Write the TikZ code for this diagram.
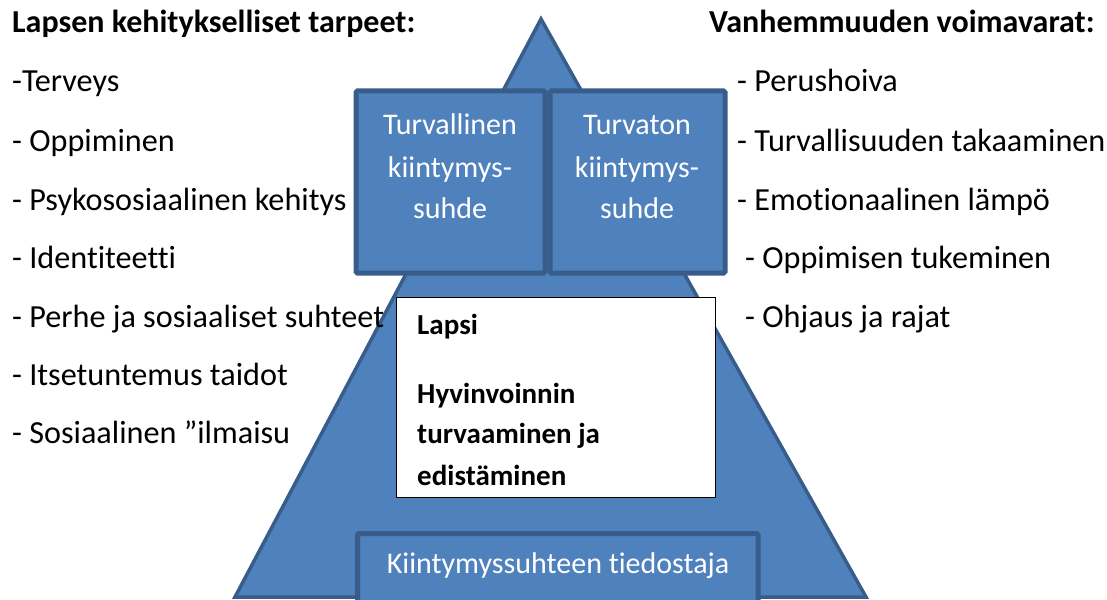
\documentclass[tikz,border=0pt]{standalone}
\usepackage{fontspec}
\setmainfont[Ligatures=NoCommon]{Carlito}
\definecolor{bfill}{HTML}{4F81BD}
\definecolor{bline}{HTML}{385D8A}
\begin{document}
\begin{tikzpicture}[x=1pt,y=-1pt,
  lst/.style={anchor=base west,inner sep=0pt,font=\fontsize{32.2}{38}\selectfont},
  hdr/.style={anchor=base west,inner sep=0pt,font=\fontsize{32}{38}\selectfont\bfseries},
  btxt/.style={anchor=base,inner sep=0pt,text=white,font=\fontsize{30}{35}\selectfont},
  wtxt/.style={anchor=base west,inner sep=0pt,font=\fontsize{29}{35}\selectfont\bfseries},
  blu/.style={fill=bfill,draw=bline,line width=5pt,rounded corners=1.5pt}]
\useasboundingbox (0,0) rectangle (1107,599);
% pyramid
\coordinate (apex) at (541,19);
\coordinate (bl) at (235,597);
\coordinate (br) at (866,597);
\draw[fill=bfill,draw=bline,line width=3.5pt,line join=miter] (apex) -- (br) -- (bl) -- cycle;
% top boxes
\node[blu,draw,minimum width=189pt,minimum height=182pt,inner sep=0pt] (secure) at (450.5,182) {};
\node[blu,draw,minimum width=175pt,minimum height=182pt,inner sep=0pt] (insecure) at (637.5,182) {};
% white box
\node[draw=black,fill=white,line width=1pt,minimum width=319pt,minimum height=200pt,inner sep=0pt] (child) at (555.5,397) {};
% bottom box
\node[blu,draw,minimum width=400.5pt,minimum height=80pt,inner sep=0pt] (aware) at (557.75,573.5) {};
% box texts
\node[btxt] (s1) at (450,135) {Turvallinen};
\node[btxt] (s2) at (450,177) {kiintymys-};
\node[btxt] (s3) at (450,218) {suhde};
\node[btxt] (i1) at (637,135) {Turvaton};
\node[btxt] (i2) at (637,177) {kiintymys-};
\node[btxt] (i3) at (637,218) {suhde};
\node[wtxt] (c1) at (417,334) {Lapsi};
\node[wtxt] (c2) at (417,403) {Hyvinvoinnin};
\node[wtxt] (c3) at (417,443) {turvaaminen ja};
\node[wtxt] (c4) at (417,485) {edistäminen};
\node[btxt] (a1) at (558,573) {Kiintymyssuhteen tiedostaja};
% left list
\node[hdr] (lh) at (12,33) {Lapsen kehitykselliset tarpeet:};
\node[lst] (l1) at (12,92) {-Terveys};
\node[lst] (l2) at (12,151) {- Oppiminen};
\node[lst] (l3) at (12,210) {- Psykososiaalinen kehitys};
\node[lst] (l4) at (12,268) {- Identiteetti};
\node[lst] (l5) at (12,327) {- Perhe ja sosiaaliset suhteet};
\node[lst] (l6) at (12,385) {- Itsetuntemus taidot};
\node[lst] (l7) at (12,443) {- Sosiaalinen ”ilmaisu};
% right list
\node[hdr] (rh) at (709,33) {Vanhemmuuden voimavarat:};
\node[lst] (r1) at (737,92) {- Perushoiva};
\node[lst] (r2) at (737,151) {- Turvallisuuden takaaminen};
\node[lst] (r3) at (737,210) {- Emotionaalinen lämpö};
\node[lst] (r4) at (745,268) {- Oppimisen tukeminen};
\node[lst] (r5) at (745,327) {- Ohjaus ja rajat};
\end{tikzpicture}
\end{document}
